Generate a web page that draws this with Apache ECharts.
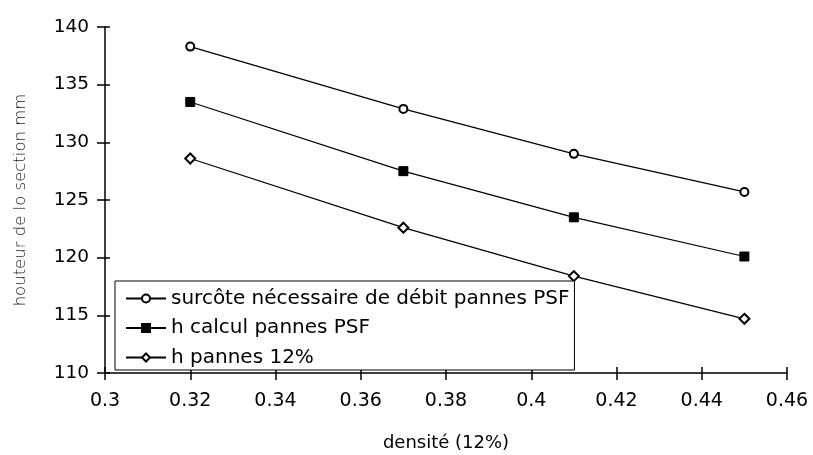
<!DOCTYPE html>
<html>
<head>
<meta charset="utf-8">
<script src="https://cdn.jsdelivr.net/npm/echarts@6/dist/echarts.min.js"></script>
<style>
	html, body { margin: 0; padding: 0; background: #fff; }
	#chart { width: 813px; height: 455px; }
</style>
</head>
<body>
<div id="chart"></div>
<script>
// densité (12%)
var densite = [0.32, 0.37, 0.41, 0.45];
// hauteur de la section mm, par courbe
var surcote = [138.3, 132.9, 129.0, 125.7];
var hCalcul = [133.5, 127.5, 123.5, 120.1];
var hPannes = [128.6, 122.6, 118.4, 114.7];

var seriesNames = ["surcôte nécessaire de débit pannes PSF", "h calcul pannes PSF", "h pannes 12%"];

function pairs(xs, ys) {
	var out = [];
	for (var i = 0; i < xs.length; i++) {
		out.push([xs[i], ys[i]]);
	}
	return out;
}

var font = "DejaVu Sans, sans-serif";

var chart = echarts.init(document.getElementById("chart"));

var option = {
	animation: false,
	backgroundColor: "#fff",
	grid: { left: 105, right: 26, top: 27, bottom: 82, outerBoundsMode: "none", containLabel: false },
	legend: {
		orient: "vertical",
		left: 115,
		top: 281,
		padding: [7.5, 5, 2.5, 10],
		itemGap: 9.5,
		itemWidth: 40,
		itemHeight: 10,
		borderColor: "#000",
		borderWidth: 1,
		borderRadius: 0,
		backgroundColor: "#fff",
		textStyle: { fontFamily: font, fontSize: 20, color: "#000", lineHeight: 19 },
		data: seriesNames
	},
	xAxis: [{
		type: "value",
		min: 0.3,
		max: 0.46,
		interval: 0.02,
		name: "densité (12%)",
		nameLocation: "middle",
		nameGap: 61,
		nameTextStyle: { fontFamily: font, fontSize: 18, color: "#000" },
		axisLine: { show: true, lineStyle: { color: "#000", width: 1.5 } },
		axisTick: { show: true, length: 7, lineStyle: { color: "#000", width: 1.5 } },
		axisLabel: { fontFamily: font, fontSize: 19, color: "#000", margin: 19 },
		splitLine: { show: false }
	}, {
		type: "value",
		min: 0.3,
		max: 0.46,
		interval: 0.02,
		position: "bottom",
		axisLine: { show: false },
		axisTick: { show: true, inside: true, length: 6, lineStyle: { color: "#000", width: 1.5 } },
		axisLabel: { show: false },
		splitLine: { show: false }
	}],
	yAxis: [{
		type: "value",
		min: 110,
		max: 140,
		interval: 5,
		name: "houteur de lo section mm",
		nameLocation: "middle",
		nameGap: 76,
		nameTextStyle: { fontFamily: font, fontSize: 16.5, color: "#222", fontWeight: 300 },
		axisLine: { show: true, lineStyle: { color: "#000", width: 1.5 } },
		axisTick: { show: true, length: 8, lineStyle: { color: "#000", width: 1.5 } },
		axisLabel: { fontFamily: font, fontSize: 18.5, color: "#000", margin: 16 },
		splitLine: { show: false }
	}, {
		type: "value",
		min: 110,
		max: 140,
		interval: 5,
		position: "left",
		axisLine: { show: false },
		axisTick: { show: true, inside: true, length: 5, lineStyle: { color: "#000", width: 1.5 } },
		axisLabel: { show: false },
		splitLine: { show: false }
	}],
	series: [{
		name: seriesNames[0],
		type: "line",
		data: pairs(densite, surcote),
		symbol: "circle",
		symbolSize: 8,
		itemStyle: { color: "#fff", borderColor: "#000", borderWidth: 2 },
		lineStyle: { color: "#000", width: 1.2 }
	}, {
		name: seriesNames[1],
		type: "line",
		data: pairs(densite, hCalcul),
		symbol: "rect",
		symbolSize: 9,
		itemStyle: { color: "#000", borderColor: "#000", borderWidth: 1 },
		lineStyle: { color: "#000", width: 1.2 }
	}, {
		name: seriesNames[2],
		type: "line",
		data: pairs(densite, hPannes),
		symbol: "diamond",
		symbolSize: 10,
		itemStyle: { color: "#fff", borderColor: "#000", borderWidth: 2 },
		lineStyle: { color: "#000", width: 1.2 }
	}]
};

chart.setOption(option);
</script>
</body>
</html>
